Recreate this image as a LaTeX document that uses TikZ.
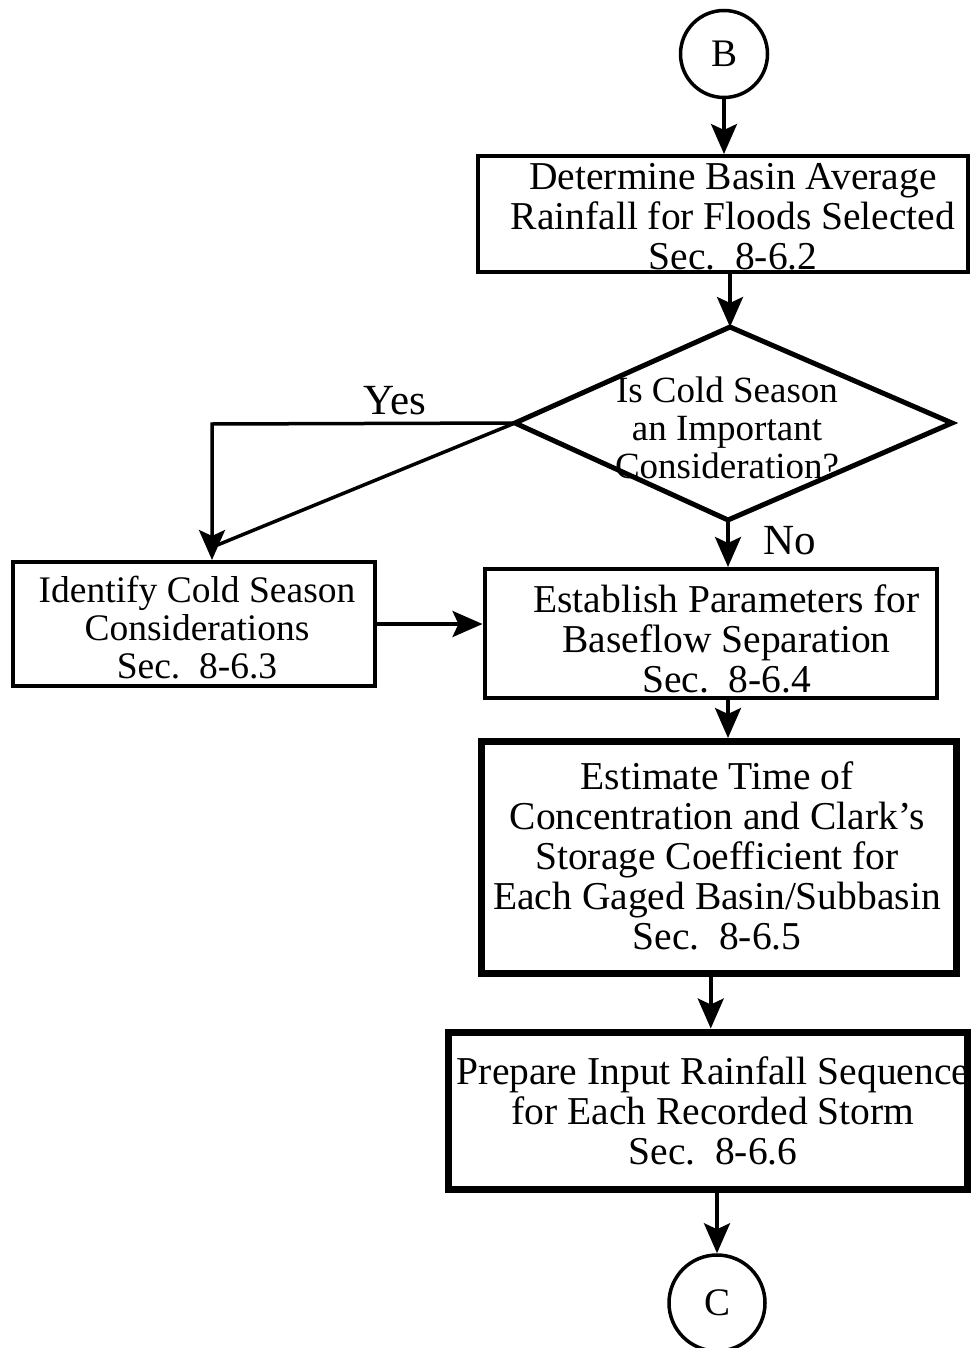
\documentclass[tikz,border=0pt]{standalone}
\usepackage{fontspec}
\setmainfont{Liberation Serif}
\usetikzlibrary{arrows.meta}
\begin{document}
\begin{tikzpicture}[x=1pt,y=-1pt,
  box/.style={draw, line width=4pt, inner sep=0pt},
  heavybox/.style={draw, line width=7pt, inner sep=0pt},
  connector/.style={draw, circle, line width=3.5pt, inner sep=0pt,
    font=\fontsize{39}{40}\selectfont},
  txt/.style={align=center, inner sep=0pt, font=\fontsize{39.5}{40}\selectfont},
  smalltxt/.style={align=center, inner sep=0pt, font=\fontsize{37.5}{38}\selectfont},
  dtxt/.style={align=center, inner sep=0pt, font=\fontsize{37}{38}\selectfont},
  answer/.style={inner sep=0pt, font=\fontsize{43}{44}\selectfont},
  arr/.style={line width=3.5pt, -{Stealth[length=30pt,width=26pt,inset=6pt]}},
  wire/.style={line width=3.5pt},
  decision/.style={line width=5pt, line join=miter}
]
\useasboundingbox (0,0) rectangle (971,1348);

% entry connector
\node[connector, minimum size=87pt] (B) at (724,54) {B};

% basin average rainfall
\node[box, minimum width=490pt, minimum height=116pt] (avg) at (723,214) {};
\node[txt] (avgt) at (733,217) {Determine Basin Average\\Rainfall for Floods Selected\\Sec.\ \ 8-6.2};

% cold season decision
\coordinate (dt) at (730,327);
\coordinate (dr) at (952,423);
\coordinate (db) at (728,520);
\coordinate (dl) at (515,423);
\draw[decision] (dt) -- (dr) -- (db) -- (dl) -- cycle;
\node[dtxt] (dq) at (727,428) {Is Cold Season\\an Important\\Consideration?};

% cold season considerations
\node[box, minimum width=362pt, minimum height=124pt] (cold) at (194,624) {};
\node[smalltxt] (coldt) at (197,628) {Identify Cold Season\\Considerations\\Sec.\ \ 8-6.3};

% baseflow separation
\node[box, minimum width=452.5pt, minimum height=129pt] (base) at (710.75,633.5) {};
\node[txt] (baset) at (726.5,638.5) {Establish Parameters for\\Baseflow Separation\\Sec.\ \ 8-6.4};

% time of concentration
\node[heavybox, minimum width=474.5pt, minimum height=231.5pt] (tc) at (718.75,857.25) {};
\node[txt] (tct) at (717,856) {Estimate Time of\\Concentration and Clark’s\\Storage Coefficient for\\Each Gaged Basin/Subbasin\\Sec.\ \ 8-6.5};

% rainfall sequence
\node[heavybox, minimum width=518.5pt, minimum height=157pt] (rain) at (707.75,1110.5) {};
\node[txt] (raint) at (713,1111) {Prepare Input Rainfall Sequence\\for Each Recorded Storm\\Sec.\ \ 8-6.6};

% exit connector
\node[connector, minimum size=96pt] (C) at (717,1303) {C};

% branch labels
\node[answer] (yes) at (395,401) {Yes};
\node[answer] (no) at (790,541) {No};

% yes branch bends
\coordinate (yc) at (212,424);
\coordinate (ym) at (215,546);

% connectors
\draw[arr] (B.south) -- (B.south |- avg.north);
\draw[arr] (dt |- avg.south) -- (dt);
\draw[arr] (dl) -- (yc) -- (yc |- cold.north);
\draw[wire] (dl) -- (ym);
\draw[arr] (db) -- (db |- base.north);
\draw[arr] (cold.east) -- (cold.east -| base.west);
\draw[arr] (db |- base.south) -- (db |- tc.north);
\draw[arr] ([xshift=-8pt]tc.south) -- ([xshift=-8pt]tc.south |- rain.north);
\draw[arr] (C.north |- rain.south) -- (C.north);
\end{tikzpicture}
\end{document}
